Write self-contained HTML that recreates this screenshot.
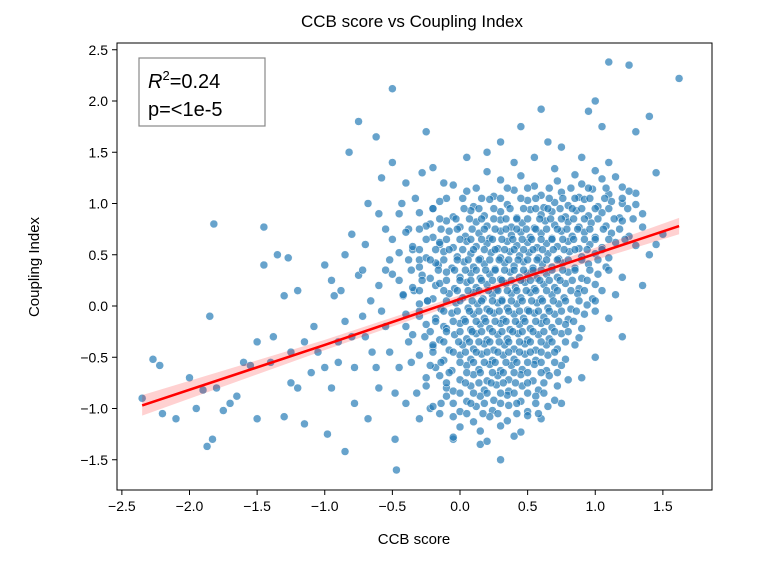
<!DOCTYPE html>
<html><head><meta charset="utf-8">
<style>
html,body{margin:0;padding:0;background:#fff;}
svg{display:block;font-family:"Liberation Sans",sans-serif;}
</style></head>
<body>
<svg id="chart" width="768" height="576" viewBox="0 0 768 576">
<text x="412" y="27" font-size="17" text-anchor="middle" fill="#000">CCB score vs Coupling Index</text>
<g id="plot"></g>
</svg>
<script>
const xTicks=[-2.5,-2.0,-1.5,-1.0,-0.5,0.0,0.5,1.0,1.5];
const xTickLabels=["−2.5","−2.0","−1.5","−1.0","−0.5","0.0","0.5","1.0","1.5"];
const yTicks=[-1.5,-1.0,-0.5,0.0,0.5,1.0,1.5,2.0,2.5];
const yTickLabels=["−1.5","−1.0","−0.5","0.0","0.5","1.0","1.5","2.0","2.5"];
const fitX=[-2.35,-1.0,0.25,1.62];
const fitY=[-0.97,-0.38,0.18,0.78];
const fitBand=[0.1,0.05,0.035,0.08];
const points=[
[-2.35,-0.9],[-2.27,-0.52],[-2.22,-0.58],[-2.2,-1.05],[-2.1,-1.1],[-2.0,-0.7],[-1.95,-1.0],[-1.9,-0.82],[-1.87,-1.37],[-1.85,-0.1],[-1.83,-1.3],[-1.82,0.8],[-1.8,-0.8],[-1.75,-1.02],[-1.7,-0.95],[-1.65,-0.88],[-1.6,-0.55],[-1.55,-0.58],[-1.5,-0.35],[-1.5,-1.1],[-1.45,0.4],[-1.45,0.77],[-1.4,-0.55],[-1.38,-0.3],[-1.35,0.5],[-1.3,-1.08],[-1.27,0.47],[-1.25,-0.75],[-1.2,-0.8],[-1.15,-1.15],[-1.1,-0.65],[-1.08,-0.2],[-1.05,-0.45],[-1.0,0.4],[-1.0,-0.6],[-0.98,-1.25],[-0.95,-0.8],[-0.93,0.1],[-0.9,-0.35],[-0.88,0.15],[-0.85,-1.42],[-0.85,0.5],[-0.82,1.5],[-0.8,-0.3],[-0.78,-0.6],[-0.75,1.8],[-0.75,0.3],[-0.72,-0.1],[-0.7,0.6],[-0.68,1.0],[-0.68,-1.1],[-0.65,-0.45],[-0.62,1.65],[-0.6,0.2],[-0.6,-0.8],[-0.58,1.25],[-0.55,0.75],[-0.55,-0.2],[-0.52,0.45],[-0.5,2.12],[-0.5,1.4],[-0.48,-1.3],[-0.47,-1.6],[-0.45,-0.6],[-0.45,0.9],[-0.42,0.1],[-0.4,1.2],[-0.4,-0.95],[-0.38,-0.35],[-0.35,0.55],[-0.33,1.05],[-0.3,-0.1],[-0.3,-1.1],[-0.28,0.3],[-0.25,1.7],[-0.25,-0.7],[-0.22,0.8],[-0.2,-0.4],[-0.2,1.35],[-0.18,0.2],[-0.15,-1.05],[-0.15,0.6],[-0.12,-0.2],[-0.1,1.05],[-0.1,-0.8],
[1.1,2.38],[1.25,2.35],[1.62,2.22],[1.0,2.0],[0.6,1.92],[0.45,1.75],[0.95,1.9],[1.05,1.75],[0.3,1.6],[0.75,1.55],[1.3,1.7],[1.4,1.85],[0.2,1.5],[0.55,1.45],[1.45,1.3],[1.4,0.5],[1.35,0.2],[1.5,0.7],[1.2,-0.3],[1.0,-0.5],[0.9,-0.7],[0.3,-1.5],[-0.05,-1.3],[0.15,-1.35],[0.6,-1.1],[0.75,-0.95],
[-0.95,0.25],[-0.9,-0.55],[-0.85,-0.15],[-0.8,0.7],[-0.78,-0.95],[-0.72,0.35],[-0.7,-0.3],[-0.66,0.05],[-0.62,-0.6],[-0.6,0.9],[-0.58,-0.05],[-0.55,0.35],[-0.52,-0.45],[-0.5,0.65],[-0.48,-0.85],[-0.45,0.25],[-0.43,1.0],[-0.4,-0.2],[-0.38,0.75],[-0.36,-0.55],[-0.34,0.15],[-0.32,-0.85],[-0.3,0.45],[-0.28,1.3],[-0.26,-0.3],[-0.24,0.05],[-0.22,-1.0],[-0.2,0.95],[-0.18,-0.6],[-0.16,0.4],[-0.14,-0.95],[-0.12,1.2],[-1.2,0.15],[-1.15,-0.35],[-1.3,0.1],[-1.25,-0.45],[0.05,1.45],[0.4,1.4],[0.65,1.6],[0.9,1.45],[1.1,1.4],[1.2,1.0],[1.35,0.9],[1.3,1.1],[1.45,0.6],
[0.2,1.31],[0.45,1.27],[0.7,1.34],[0.85,1.28],[1.0,1.32],[1.15,1.26],
[-0.05,1.18],[0.3,1.23],[0.55,1.17],[0.72,1.22],[0.9,1.19],[1.05,1.24],[1.2,1.16],
[0.05,1.12],[0.25,1.07],[0.4,1.13],[0.6,1.08],[0.75,1.11],[0.88,1.06],[0.98,1.14],[1.1,1.09],[1.25,1.12],
[-0.15,1.02],[0.1,0.97],[0.22,1.04],[0.35,0.99],[0.5,1.03],[0.62,0.96],[0.7,1.01],[0.8,0.98],[0.92,1.04],[1.02,0.97],[1.12,1.02],[1.3,0.99],
[-0.3,0.91],[-0.05,0.87],[0.08,0.93],[0.18,0.88],[0.3,0.92],[0.42,0.86],[0.52,0.94],[0.6,0.89],[0.68,0.92],[0.78,0.87],[0.86,0.93],[0.95,0.88],[1.05,0.91],[1.18,0.86],
[-0.25,0.78],[-0.1,0.83],[0.0,0.77],[0.12,0.82],[0.2,0.78],[0.3,0.84],[0.38,0.77],[0.46,0.81],[0.55,0.76],[0.63,0.83],[0.7,0.79],[0.8,0.82],[0.88,0.77],[0.97,0.81],[1.08,0.78],[1.2,0.83],[1.35,0.77],
[-0.4,0.72],[-0.2,0.67],[-0.08,0.73],[0.04,0.68],[0.14,0.71],[0.22,0.66],[0.3,0.73],[0.38,0.69],[0.45,0.72],[0.52,0.67],[0.6,0.71],[0.68,0.66],[0.75,0.73],[0.83,0.68],[0.92,0.72],[1.0,0.67],[1.12,0.71],[1.25,0.68],
[-0.35,0.58],[-0.15,0.62],[-0.05,0.57],[0.05,0.63],[0.12,0.58],[0.2,0.61],[0.28,0.56],[0.35,0.63],[0.42,0.59],[0.5,0.62],[0.57,0.57],[0.64,0.61],[0.72,0.58],[0.8,0.63],[0.88,0.56],[0.96,0.6],[1.05,0.57],[1.15,0.62],[1.3,0.59],
[-0.45,0.52],[-0.25,0.47],[-0.12,0.53],[-0.02,0.48],[0.08,0.51],[0.15,0.46],[0.23,0.52],[0.3,0.47],[0.37,0.53],[0.44,0.49],[0.51,0.52],[0.58,0.47],[0.65,0.51],[0.73,0.46],[0.81,0.53],[0.9,0.48],[1.0,0.51],[1.1,0.47],
[-0.3,0.38],[-0.18,0.42],[-0.06,0.37],[0.03,0.43],[0.1,0.38],[0.18,0.41],[0.26,0.36],[0.33,0.42],[0.4,0.39],[0.47,0.43],[0.54,0.37],[0.61,0.41],[0.68,0.38],[0.76,0.42],[0.85,0.37],[0.95,0.41],[1.08,0.38],
[-0.5,0.31],[-0.22,0.27],[-0.1,0.33],[0.0,0.28],[0.08,0.32],[0.15,0.27],[0.22,0.31],[0.3,0.26],[0.37,0.33],[0.44,0.28],[0.5,0.32],[0.57,0.27],[0.64,0.31],[0.72,0.28],[0.8,0.33],[0.9,0.27],[1.02,0.31],[1.2,0.28],
[-0.35,0.18],[-0.15,0.22],[-0.04,0.17],[0.05,0.23],[0.12,0.18],[0.2,0.21],[0.27,0.16],[0.34,0.22],[0.41,0.18],[0.48,0.23],[0.55,0.17],[0.62,0.21],[0.7,0.18],[0.78,0.22],[0.88,0.17],[1.0,0.21],
[-0.42,0.11],[-0.2,0.07],[-0.08,0.12],[0.02,0.08],[0.1,0.13],[0.17,0.07],[0.24,0.11],[0.31,0.06],[0.38,0.12],[0.45,0.08],[0.52,0.13],[0.6,0.07],[0.68,0.11],[0.77,0.08],[0.87,0.12],[0.98,0.07],[1.15,0.11],
[-0.3,0.02],[-0.14,-0.03],[-0.03,0.03],[0.06,-0.02],[0.13,0.02],[0.2,-0.03],[0.28,0.03],[0.35,-0.02],[0.42,0.02],[0.5,-0.04],[0.57,0.03],[0.65,-0.02],[0.73,0.02],[0.82,-0.03],[0.94,0.01],
[-0.4,-0.08],[-0.18,-0.12],[-0.06,-0.07],[0.03,-0.13],[0.1,-0.08],[0.18,-0.12],[0.25,-0.07],[0.32,-0.13],[0.4,-0.08],[0.47,-0.12],[0.55,-0.07],[0.62,-0.11],[0.7,-0.08],[0.8,-0.13],[0.92,-0.08],[1.1,-0.12],
[-0.25,-0.18],[-0.1,-0.22],[0.0,-0.17],[0.08,-0.23],[0.15,-0.18],[0.22,-0.22],[0.3,-0.17],[0.37,-0.23],[0.44,-0.18],[0.52,-0.22],[0.6,-0.17],[0.68,-0.21],[0.78,-0.18],[0.9,-0.22],
[-0.35,-0.28],[-0.15,-0.33],[-0.04,-0.28],[0.05,-0.32],[0.12,-0.27],[0.2,-0.33],[0.28,-0.28],[0.35,-0.32],[0.43,-0.27],[0.5,-0.33],[0.58,-0.28],[0.66,-0.32],[0.75,-0.27],[0.88,-0.31],
[-0.2,-0.38],[-0.08,-0.43],[0.02,-0.38],[0.1,-0.42],[0.18,-0.37],[0.25,-0.43],[0.33,-0.38],[0.4,-0.42],[0.48,-0.37],[0.56,-0.43],[0.64,-0.38],[0.72,-0.42],[0.85,-0.38],
[-0.3,-0.48],[-0.12,-0.53],[0.0,-0.48],[0.08,-0.52],[0.16,-0.47],[0.24,-0.53],[0.32,-0.48],[0.4,-0.52],[0.48,-0.47],[0.56,-0.53],[0.65,-0.48],[0.78,-0.52],
[-0.22,-0.58],[-0.06,-0.63],[0.05,-0.58],[0.14,-0.62],[0.22,-0.57],[0.3,-0.63],[0.38,-0.58],[0.46,-0.62],[0.55,-0.57],[0.64,-0.63],[0.75,-0.58],
[-0.15,-0.68],[0.0,-0.72],[0.1,-0.67],[0.2,-0.73],[0.28,-0.68],[0.36,-0.72],[0.45,-0.67],[0.54,-0.73],[0.66,-0.68],[0.8,-0.72],
[-0.25,-0.78],[-0.05,-0.83],[0.08,-0.78],[0.18,-0.82],[0.27,-0.77],[0.36,-0.83],[0.46,-0.78],[0.58,-0.82],[0.72,-0.78],
[-0.1,-0.88],[0.05,-0.93],[0.15,-0.88],[0.25,-0.92],[0.35,-0.87],[0.45,-0.93],[0.56,-0.88],[0.7,-0.92],
[-0.2,-0.98],[0.0,-1.03],[0.12,-0.98],[0.24,-1.02],[0.36,-0.97],[0.5,-1.03],[0.65,-0.98],
[-0.05,-1.08],[0.1,-1.13],[0.22,-1.08],[0.35,-1.12],[0.5,-1.07],
[0.0,-1.18],[0.15,-1.22],[0.3,-1.17],[0.45,-1.23],
[-0.05,-1.28],[0.2,-1.32],[0.4,-1.27]
];
const coreRowY=[1.15,1.05,0.95,0.85,0.75,0.65,0.55,0.45,0.35,0.25,0.15,0.05,-0.05,-0.15,-0.25,-0.35,-0.45,-0.55,-0.65,-0.75,-0.85,-0.95,-1.05];
const coreRowX=[
[0.12,0.35,0.5,0.66,0.82,0.95,1.08],
[0.02,0.16,0.3,0.45,0.56,0.66,0.76,0.85,0.96,1.07,1.2],
[-0.2,0.03,0.14,0.25,0.37,0.47,0.56,0.65,0.74,0.83,0.9,1.0,1.1,1.24],
[-0.15,-0.03,0.07,0.16,0.25,0.34,0.42,0.5,0.59,0.67,0.75,0.84,0.92,1.02,1.14,1.28],
[-0.3,-0.14,-0.02,0.09,0.18,0.26,0.34,0.42,0.49,0.56,0.64,0.72,0.79,0.87,0.96,1.06,1.18],
[-0.25,-0.1,0.0,0.08,0.16,0.24,0.31,0.39,0.46,0.53,0.6,0.68,0.76,0.84,0.92,1.0,1.1,1.22],
[-0.3,-0.18,-0.08,0.02,0.1,0.18,0.26,0.33,0.4,0.47,0.54,0.61,0.69,0.77,0.85,0.94,1.05],
[-0.38,-0.22,-0.12,-0.02,0.06,0.14,0.22,0.29,0.36,0.43,0.5,0.57,0.64,0.72,0.8,0.9,1.02],
[-0.36,-0.16,-0.04,0.04,0.12,0.19,0.26,0.33,0.4,0.47,0.54,0.6,0.68,0.76,0.85,0.96,1.1],
[-0.28,-0.1,0.0,0.08,0.16,0.24,0.31,0.38,0.45,0.52,0.59,0.66,0.74,0.83,0.94],
[-0.3,-0.12,-0.02,0.06,0.14,0.21,0.28,0.35,0.42,0.49,0.56,0.64,0.72,0.82,0.92,1.05],
[-0.24,-0.1,0.0,0.09,0.16,0.24,0.31,0.38,0.46,0.53,0.61,0.69,0.78,0.88,1.0],
[-0.3,-0.12,-0.02,0.07,0.14,0.22,0.29,0.36,0.44,0.51,0.58,0.66,0.75,0.86,1.0],
[-0.18,-0.05,0.04,0.12,0.19,0.26,0.34,0.41,0.48,0.56,0.64,0.73,0.84],
[-0.22,-0.1,0.0,0.09,0.16,0.24,0.31,0.39,0.46,0.54,0.62,0.7,0.8],
[-0.12,-0.01,0.07,0.14,0.22,0.29,0.36,0.44,0.52,0.6,0.68,0.78],
[-0.2,-0.05,0.04,0.12,0.2,0.28,0.36,0.44,0.52,0.6,0.7],
[-0.14,0.0,0.1,0.18,0.26,0.34,0.42,0.5,0.6,0.7],
[-0.08,0.05,0.15,0.24,0.32,0.4,0.5,0.6,0.72],
[-0.1,0.04,0.14,0.23,0.32,0.41,0.5,0.62],
[0.0,0.1,0.2,0.3,0.4,0.5,0.62],
[-0.05,0.08,0.18,0.3,0.42,0.56],
[0.05,0.17,0.28,0.42,0.58]
];
const NS="http://www.w3.org/2000/svg";
const L=117,R=712,T=43,B=490;
const sx=v=>460+v*135.25;
const sy=v=>306-v*102.5;
const g=document.getElementById('plot');
function mk(t,a){const e=document.createElementNS(NS,t);for(const k in a)e.setAttribute(k,a[k]);return e;}
const pg=mk('g',{});


g.appendChild(pg);
function dot(x,y){
  const c=mk('circle',{cx:sx(x),cy:sy(y),r:4.0,fill:'#1f77b4','fill-opacity':0.68,stroke:'#fff','stroke-width':0.5});
  
  
  pg.appendChild(c);
}
points.forEach(p=>dot(p[0],p[1]));
coreRowY.forEach((y,i)=>coreRowX[i].forEach(x=>dot(x,y)));
let up=[],dn=[];
for(let i=0;i<fitX.length;i++){up.push(sx(fitX[i])+','+sy(fitY[i]+fitBand[i]));dn.unshift(sx(fitX[i])+','+sy(fitY[i]-fitBand[i]));}
const band=mk('polygon',{points:up.concat(dn).join(' '),fill:'#ff0000','fill-opacity':0.18});


g.appendChild(band);
const line=mk('polyline',{points:fitX.map((x,i)=>sx(x)+','+sy(fitY[i])).join(' '),fill:'none',stroke:'#ff0000','stroke-width':2.6});


g.appendChild(line);
const fr=mk('rect',{x:L,y:T,width:R-L,height:B-T,fill:'none',stroke:'#000','stroke-width':1});


g.appendChild(fr);
xTicks.forEach((v,i)=>{
  const x=sx(v);
  const tk=mk('line',{x1:x,x2:x,y1:B,y2:B+5,stroke:'#000'});
  
  
  g.appendChild(tk);
  const t=mk('text',{x:x,y:B+21,'font-size':14,'text-anchor':'middle'});
  t.textContent=xTickLabels[i];
  
  
  g.appendChild(t);
});
yTicks.forEach((v,i)=>{
  const y=sy(v);
  const tk=mk('line',{x1:L-5,x2:L,y1:y,y2:y,stroke:'#000'});
  
  
  g.appendChild(tk);
  const t=mk('text',{x:L-9,y:y+5,'font-size':14,'text-anchor':'end'});
  t.textContent=yTickLabels[i];
  
  
  g.appendChild(t);
});
</script>
<svg style="position:absolute;left:0;top:0" width="768" height="576">
<text x="414" y="544" font-size="15" text-anchor="middle" font-family="Liberation Sans,sans-serif">CCB score</text>
<text transform="translate(39,267) rotate(-90)" font-size="15" text-anchor="middle" font-family="Liberation Sans,sans-serif">Coupling Index</text>
<g>
<rect x="139" y="58" width="126" height="68" fill="#fff" fill-opacity="0.85" stroke="#888" stroke-width="1.2"/>
<text x="148" y="88" font-size="20" font-family="Liberation Sans,sans-serif"><tspan font-style="italic">R</tspan><tspan dy="-8" font-size="13">2</tspan><tspan dy="8">=0.24</tspan></text>
<text x="148" y="116" font-size="20" font-family="Liberation Sans,sans-serif">p=&lt;1e-5</text>
</g>
</svg>
</body></html>
